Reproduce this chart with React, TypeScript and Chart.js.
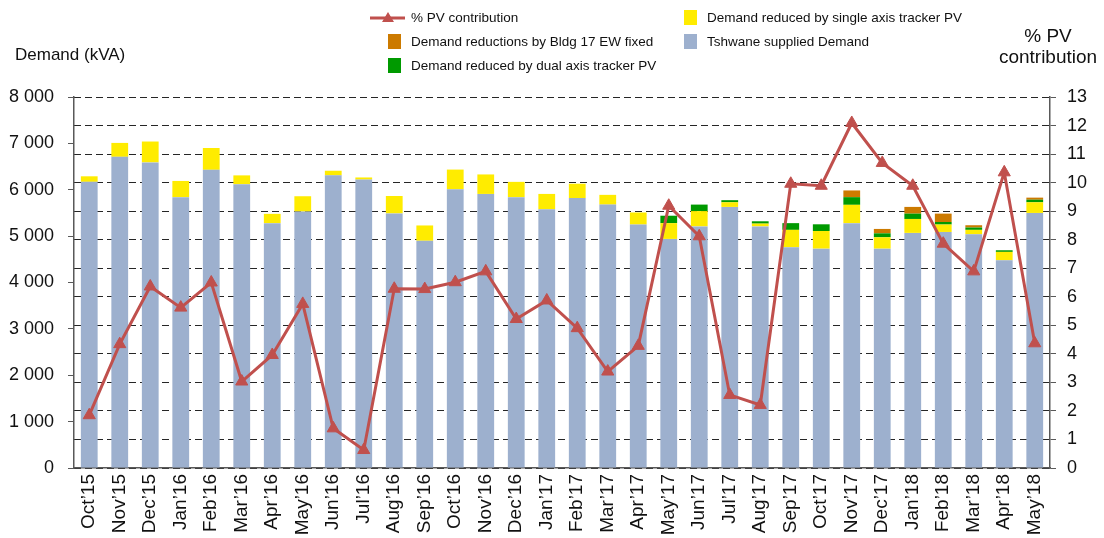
import React, { useEffect, useRef } from "react";
import { Chart, registerables } from "chart.js";

Chart.register(...registerables);

const months = [
  "Oct’15", "Nov’15", "Dec’15", "Jan’16", "Feb’16", "Mar’16", "Apr’16", "May’16",
  "Jun’16", "Jul’16", "Aug’16", "Sep’16", "Oct’16", "Nov’16", "Dec’16", "Jan’17",
  "Feb’17", "Mar’17", "Apr’17", "May’17", "Jun’17", "Jul’17", "Aug’17", "Sep’17",
  "Oct’17", "Nov’17", "Dec’17", "Jan’18", "Feb’18", "Mar’18", "Apr’18", "May’18",
];

const tshwaneDemand = [
  6170, 6710, 6590, 5840, 6430, 6120, 5280, 5530, 6310, 6220, 5490, 4900, 6010, 5910, 5840, 5580,
  5820, 5680, 5250, 4940, 5210, 5630, 5210, 4760, 4730, 5280, 4730, 5070, 5090, 5040, 4480, 5500,
];
const singleAxis = [
  120, 300, 450, 350, 470, 190, 200, 330, 100, 45, 375, 330, 425, 420, 330, 330,
  310, 210, 260, 340, 330, 100, 60, 375, 380, 395, 245, 300, 160, 95, 180, 230,
];
const dualAxis = [
  0, 0, 0, 0, 0, 0, 0, 0, 0, 0, 0, 0, 0, 0, 0, 0,
  0, 0, 0, 160, 140, 45, 50, 145, 145, 165, 85, 115, 55, 50, 35, 55,
];
const bldg17 = [
  0, 0, 0, 0, 0, 0, 0, 0, 0, 0, 0, 0, 0, 0, 0, 0,
  0, 0, 0, 0, 0, 0, 0, 0, 0, 145, 95, 145, 180, 50, 0, 45,
];
const pvContribution = [
  1.85, 4.34, 6.36, 5.62, 6.5, 3.03, 3.96, 5.75, 1.39, 0.63, 6.28, 6.27, 6.51, 6.89, 5.22, 5.87,
  4.9, 3.38, 4.28, 9.19, 8.12, 2.56, 2.21, 9.96, 9.89, 12.09, 10.69, 9.89, 7.86, 6.89, 10.36, 4.37,
];

const leftTicks = [0, 1000, 2000, 3000, 4000, 5000, 6000, 7000, 8000];

const COLORS = {
  blue: "#9DB0CE",
  yellow: "#FFEC00",
  green: "#009A00",
  orange: "#CC7A00",
  line: "#C0504D",
  text: "#111111",
  axis: "#595959",
  grid: "#262626",
};

const FONT = '"Liberation Sans", Arial, sans-serif';

function fmtThousands(v: number): string {
  if (v < 1000) return String(v);
  const th = Math.floor(v / 1000);
  const rest = String(v % 1000).padStart(3, "0");
  return `${th} ${rest}`;
}

const textPlugin = {
  id: "customText",
  afterDraw(chart: any) {
    const ctx = chart.ctx as CanvasRenderingContext2D;
    ctx.save();
    ctx.fillStyle = COLORS.text;
    ctx.textBaseline = "middle";

    // Axis titles
    ctx.font = `17px ${FONT}`;
    ctx.textAlign = "left";
    ctx.fillText("Demand (kVA)", 15, 55);
    ctx.font = `19px ${FONT}`;
    ctx.textAlign = "center";
    ctx.fillText("% PV", 1048, 37);
    ctx.fillText("contribution", 1048, 58);

    // Legend
    ctx.font = `13.5px ${FONT}`;
    ctx.textAlign = "left";
    // line item
    ctx.strokeStyle = COLORS.line;
    ctx.lineWidth = 3;
    ctx.beginPath();
    ctx.moveTo(370, 18);
    ctx.lineTo(405, 18);
    ctx.stroke();
    ctx.fillStyle = COLORS.line;
    ctx.beginPath();
    ctx.moveTo(388, 12);
    ctx.lineTo(394, 22);
    ctx.lineTo(382, 22);
    ctx.closePath();
    ctx.fill();
    ctx.fillStyle = COLORS.text;
    ctx.fillText("% PV contribution", 411, 18);

    const items = [
      { color: COLORS.orange, label: "Demand reductions by Bldg 17 EW fixed", x: 388, y: 42 },
      { color: COLORS.green, label: "Demand reduced by dual axis tracker PV", x: 388, y: 66 },
      { color: COLORS.yellow, label: "Demand reduced by single axis tracker PV", x: 684, y: 18 },
      { color: COLORS.blue, label: "Tshwane supplied Demand", x: 684, y: 42 },
    ];
    for (const it of items) {
      ctx.fillStyle = it.color;
      ctx.fillRect(it.x, it.y - 8, 13, 15);
      ctx.fillStyle = COLORS.text;
      ctx.fillText(it.label, it.x + 23, it.y);
    }
    ctx.restore();
  },
};

export default function App() {
  const canvasRef = useRef<HTMLCanvasElement | null>(null);

  useEffect(() => {
    document.body.style.margin = "0";
    const canvas = canvasRef.current;
    if (!canvas) return;

    const barCommon = {
      type: "bar" as const,
      yAxisID: "y",
      stack: "demand",
      barPercentage: 0.55,
      categoryPercentage: 1,
      order: 1,
    };

    const chart = new Chart(canvas, {
      type: "bar",
      data: {
        labels: months,
        datasets: [
          { ...barCommon, label: "Tshwane supplied Demand", data: tshwaneDemand, backgroundColor: COLORS.blue },
          { ...barCommon, label: "Demand reduced by single axis tracker PV", data: singleAxis, backgroundColor: COLORS.yellow },
          { ...barCommon, label: "Demand reduced by dual axis tracker PV", data: dualAxis, backgroundColor: COLORS.green },
          { ...barCommon, label: "Demand reductions by Bldg 17 EW fixed", data: bldg17, backgroundColor: COLORS.orange },
          {
            type: "line" as const,
            label: "% PV contribution",
            data: pvContribution,
            yAxisID: "y1",
            borderColor: COLORS.line,
            backgroundColor: COLORS.line,
            borderWidth: 3,
            pointStyle: "triangle",
            pointRadius: 7,
            pointBorderWidth: 1,
            tension: 0,
            order: 0,
          } as any,
        ],
      },
      options: {
        responsive: false,
        animation: false,
        layout: { padding: { top: 97, left: 0, right: 0, bottom: 0 } },
        plugins: {
          legend: { display: false },
          tooltip: { enabled: false },
        },
        scales: {
          x: {
            stacked: true,
            grid: { display: false, drawOnChartArea: false, drawTicks: false },
            border: { display: true, color: COLORS.axis, width: 1.5 },
            ticks: {
              minRotation: 90,
              maxRotation: 90,
              autoSkip: false,
              padding: 6,
              color: COLORS.text,
              font: { family: FONT, size: 19 },
            },
            afterFit(scale: any) {
              scale.height = 70;
            },
          },
          y: {
            position: "left",
            stacked: true,
            min: 0,
            max: 8000,
            afterBuildTicks(scale: any) {
              scale.ticks = leftTicks.map((v) => ({ value: v }));
            },
            grid: {
              drawOnChartArea: false,
              drawTicks: true,
              tickLength: 6,
              tickColor: COLORS.axis,
              tickWidth: 1,
            },
            border: { display: true, color: COLORS.axis, width: 1.5 },
            ticks: {
              padding: 14,
              color: COLORS.text,
              font: { family: FONT, size: 18 },
              callback: (v: any) => fmtThousands(Number(v)),
            },
            afterFit(scale: any) {
              scale.width = 74;
            },
          },
          y1: {
            position: "right",
            min: 0,
            max: 13,
            ticks: {
              stepSize: 1,
              padding: 11,
              color: COLORS.text,
              font: { family: FONT, size: 18 },
            },
            grid: {
              drawOnChartArea: true,
              drawTicks: true,
              color: COLORS.grid,
              lineWidth: 1,
              tickLength: 6,
              tickColor: COLORS.axis,
              tickBorderDash: [],
            },
            border: { display: true, color: COLORS.axis, width: 1.5, dash: [7, 4] },
            afterFit(scale: any) {
              scale.width = 54;
            },
          },
        },
      } as any,
      plugins: [textPlugin],
    });

    return () => chart.destroy();
  }, []);

  return (
    <div style={{ width: 1104, height: 538, background: "#fff" }}>
      <canvas ref={canvasRef} width={1104} height={538} />
    </div>
  );
}
